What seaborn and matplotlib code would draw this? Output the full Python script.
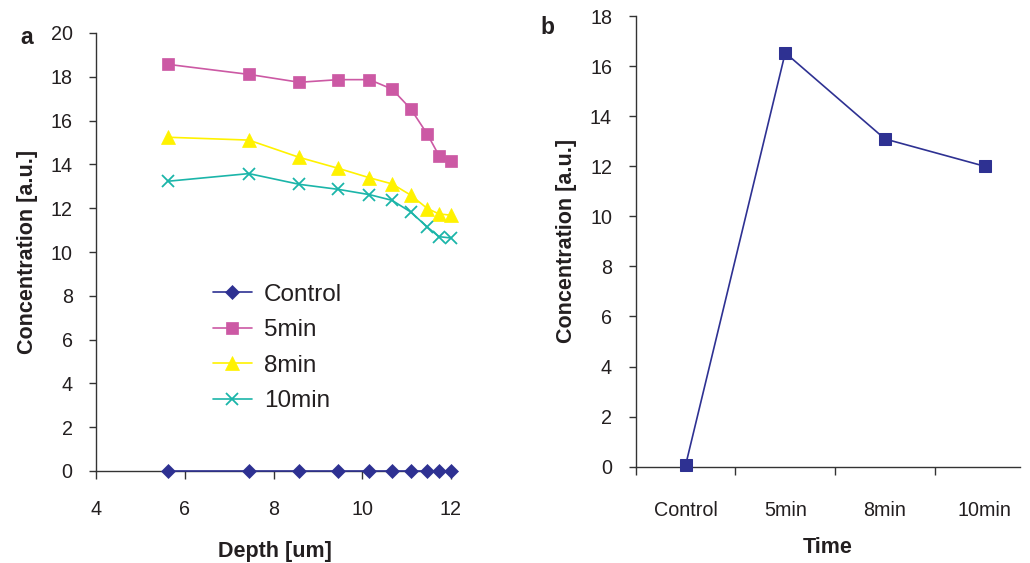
import numpy as np
import pandas as pd
import matplotlib
matplotlib.use("Agg")
import matplotlib.pyplot as plt
import seaborn as sns

# ---- data ----
depth = [5.61, 7.44, 8.58, 9.46, 10.16, 10.67, 11.09, 11.47, 11.73, 12.0]
control = [0, 0, 0, 0, 0, 0, 0, 0, 0, 0]
min5 = [18.57, 18.11, 17.75, 17.87, 17.87, 17.44, 16.54, 15.37, 14.40, 14.16]
min8 = [15.24, 15.11, 14.32, 13.82, 13.39, 13.11, 12.60, 11.98, 11.74, 11.68]
min10 = [13.23, 13.58, 13.09, 12.86, 12.62, 12.36, 11.83, 11.13, 10.70, 10.64]
series_names = ["Control", "5min", "8min", "10min"]

time_labels = ["Control", "5min", "8min", "10min"]
time_conc = [0.05, 16.53, 13.09, 12.0]

yticks_a = [0, 2, 4, 6, 8, 10, 12, 14, 16, 18, 20]
xticks_a = [4, 6, 8, 10, 12]
yticks_b = [0, 2, 4, 6, 8, 10, 12, 14, 16, 18]

# ---- style ----
sns.set_theme(style="ticks")
plt.rcParams["font.family"] = ["Liberation Sans", "DejaVu Sans"]
txt = "#231F20"
plt.rcParams.update({
    "axes.edgecolor": "#333333",
    "axes.linewidth": 1.0,
    "xtick.color": "#333333",
    "ytick.color": "#333333",
    "xtick.labelcolor": txt,
    "ytick.labelcolor": txt,
    "xtick.direction": "out",
    "ytick.direction": "out",
    "xtick.major.size": 6,
    "ytick.major.size": 5,
    "xtick.major.width": 1.0,
    "ytick.major.width": 1.0,
    "axes.labelcolor": txt,
})

colors = {"Control": "#2E3192", "5min": "#CC59A4", "8min": "#FFF200", "10min": "#1BB5A9"}
markers = {"Control": "D", "5min": "s", "8min": "^", "10min": "x"}
msizes = {"Control": 7.5, "5min": 9, "8min": 10, "10min": 9}

fig = plt.figure(figsize=(10.3, 5.63), dpi=100)
ax1 = fig.add_axes([96.3 / 1030, 92 / 563, 356.9 / 1030, 438 / 563])
ax2 = fig.add_axes([635.7 / 1030, 96.3 / 563, 384.3 / 1030, 450.7 / 563])

df = pd.DataFrame({
    "Depth": depth * 4,
    "Conc": control + min5 + min8 + min10,
    "Series": sum([[n] * len(depth) for n in series_names], []),
})

for name in series_names:
    sub = df[df["Series"] == name]
    sns.lineplot(data=sub, x="Depth", y="Conc", ax=ax1, color=colors[name],
                 marker=markers[name], markersize=msizes[name],
                 markeredgecolor=colors[name], markerfacecolor=colors[name],
                 markeredgewidth=1.3 if name == "10min" else 0.5,
                 linewidth=1.2, label=name, clip_on=False, zorder=3)

ax1.set_xlim(4, 12.05)
ax1.set_ylim(0, 20)
ax1.set_xticks(xticks_a)
ax1.set_yticks(yticks_a)
ax1.tick_params(axis="both", labelsize=14.2)
ax1.tick_params(axis="y", pad=12)
ax1.tick_params(axis="x", pad=15)
ax1.set_xlabel("Depth [um]", fontsize=15.5, fontweight="bold", labelpad=16)
ax1.set_ylabel("Concentration [a.u.]", fontsize=15.5, fontweight="bold", labelpad=9)
sns.despine(ax=ax1)

leg = ax1.legend(loc="upper left", bbox_to_anchor=(0.327, 0.427), frameon=False,
                 fontsize=17.5, handlelength=1.6, handletextpad=0.5,
                 labelspacing=0.55, borderpad=0, borderaxespad=0)
for t in leg.get_texts():
    t.set_color(txt)

# panel b
sns.lineplot(x=time_labels, y=time_conc, ax=ax2, color="#2E3192", marker="s",
             markersize=9, markeredgecolor="#2E3192", markerfacecolor="#2E3192",
             linewidth=1.2, sort=False, clip_on=False, zorder=3)
ax2.set_xlim(-0.5, 3.355)
ax2.set_ylim(0, 18)
ax2.set_yticks(yticks_b)
ax2.set_xticks([-0.5, 0.5, 1.5, 2.5])
ax2.set_xticklabels([""] * 4)
ax2.set_xticks(range(len(time_labels)), labels=time_labels, minor=True)
ax2.tick_params(axis="x", which="minor", length=0, labelsize=14.2, pad=25)
ax2.tick_params(axis="y", labelsize=14.2, pad=12)
ax2.set_xlabel("Time", fontsize=15.5, fontweight="bold", labelpad=12)
ax2.set_ylabel("Concentration [a.u.]", fontsize=15.5, fontweight="bold", labelpad=9)
sns.despine(ax=ax2)

fig.text(20 / 1030, 1 - 38 / 563, "a", fontsize=16.5, fontweight="bold", color=txt,
         ha="left", va="center")
fig.text(540 / 1030, 1 - 27 / 563, "b", fontsize=16.5, fontweight="bold", color=txt,
         ha="left", va="center")

fig.savefig("out.png", dpi=100)
